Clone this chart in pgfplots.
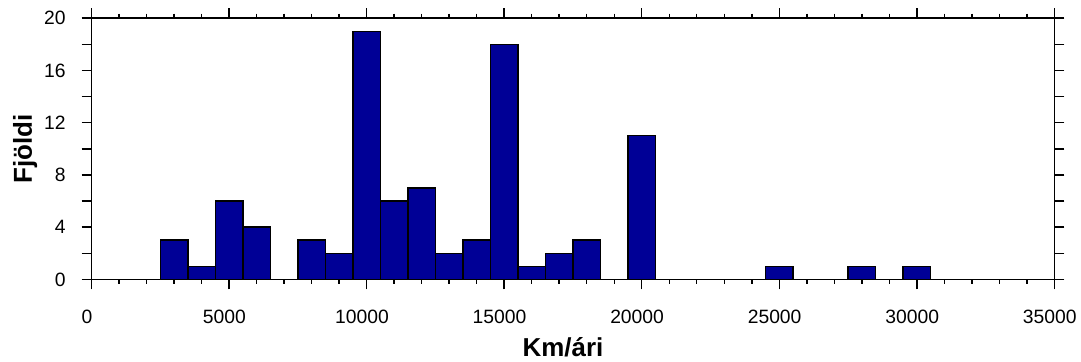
\documentclass[border=0pt]{standalone}
\usepackage{fontspec}
\setmainfont{Liberation Sans}
\usepackage{pgfplots}
\pgfplotsset{compat=1.18}
\definecolor{barblue}{RGB}{0,0,150}
\begin{document}
\begin{tikzpicture}
\begin{axis}[
  name=ax,
  scale only axis, width=723.75pt, height=196.3pt,
  xmin=0, xmax=35000, ymin=0, ymax=20,
  xtick={0,5000,...,35000}, minor x tick num=4,
  ytick={0,2,...,20}, yticklabels={0,,4,,8,,12,,16,,20},
  tick align=outside, major tick length=7.5pt, minor tick length=3.4pt,
  xticklabel style={/pgf/number format/1000 sep={}, yshift=-12pt, xshift=-3.5pt},
  yticklabel style={xshift=-8.5pt},
  scaled x ticks=false,
  /pgf/number format/assume math mode=true,
  ticklabel style={font=\fontsize{14.5}{16}\selectfont},
  xlabel={Km/ári}, ylabel={Fjöldi},
  label style={font=\bfseries\fontsize{19.5}{22}\selectfont},
  xlabel style={at={(axis description cs:0.5,0)}, anchor=base, yshift=-57.75pt, xshift=-7.5pt},
  ylabel style={at={(axis description cs:0,0.5)}, anchor=base, yshift=44.8pt},
  axis line style={line width=1.1pt},
  every tick/.style={line width=1.1pt, black},
  ybar, bar width=1000,
]
\addplot[fill=barblue, draw=black, line width=1.1pt] coordinates {
(3000,3)(4000,1)(5000,6)(6000,4)(8000,3)(9000,2)(10000,19)(11000,6)(12000,7)
(13000,2)(14000,3)(15000,18)(16000,1)(17000,2)(18000,3)(20000,11)
(25000,1)(28000,1)(30000,1)};
\end{axis}
\path (ax.south west) ++(-68.8pt,-60.75pt) rectangle ([shift={(18.2pt,13.7pt)}]ax.north east);
\end{tikzpicture}
\end{document}
